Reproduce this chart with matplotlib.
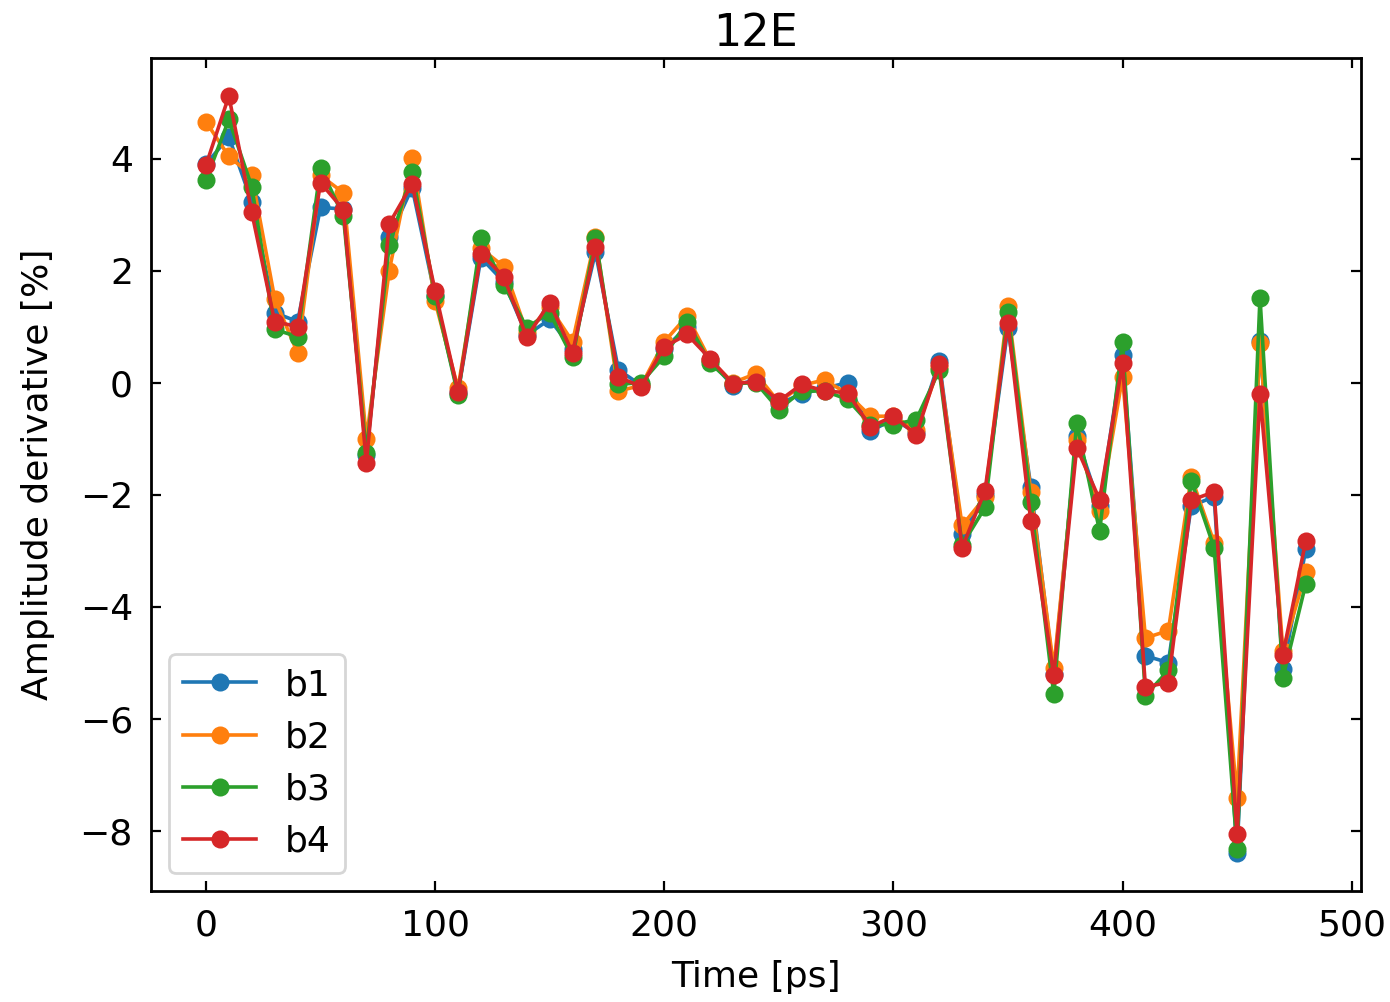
import numpy as np
import matplotlib
matplotlib.use("Agg")
import matplotlib.pyplot as plt

plt.rcParams["font.size"] = 13

time = np.arange(0, 490, 10)

# amplitude derivative per band
b1 = [3.9, 4.39, 3.23, 1.25, 1.09, 3.13, 3.1, -1.3, 2.6, 3.48,
      1.55, -0.18, 2.23, 1.8, 0.85, 1.13, 0.6, 2.33, 0.23, -0.05,
      0.6, 1.0, 0.4, -0.06, 0.05, -0.38, -0.2, -0.1, 0.0, -0.87,
      -0.65, -0.9, 0.38, -2.7, -2.0, 0.98, -1.86, -5.2, -0.96, -2.2,
      0.5, -4.88, -5.0, -2.2, -2.04, -8.4, 0.75, -5.11, -2.98]
b2 = [4.66, 4.04, 3.70, 1.50, 0.53, 3.7, 3.39, -1.0, 2.0, 4.02,
      1.45, -0.1, 2.4, 2.07, 0.9, 1.35, 0.73, 2.6, -0.15, -0.05,
      0.73, 1.19, 0.4, 0.0, 0.16, -0.35, -0.05, 0.05, -0.2, -0.6,
      -0.6, -0.85, 0.28, -2.55, -2.05, 1.36, -1.96, -5.1, -1.02, -2.3,
      0.1, -4.56, -4.43, -1.68, -2.86, -7.41, 0.7, -4.79, -3.39]
b3 = [3.62, 4.70, 3.50, 0.95, 0.82, 3.84, 2.97, -1.25, 2.46, 3.76,
      1.55, -0.22, 2.58, 1.75, 0.98, 1.25, 0.45, 2.58, -0.03, 0.0,
      0.47, 1.09, 0.35, -0.02, 0.0, -0.48, -0.15, -0.15, -0.3, -0.75,
      -0.75, -0.66, 0.22, -2.9, -2.23, 1.27, -2.13, -5.57, -0.72, -2.65,
      0.72, -5.59, -5.14, -1.75, -2.95, -8.33, 1.52, -5.27, -3.59]
b4 = [3.88, 5.12, 3.04, 1.09, 1.0, 3.57, 3.09, -1.43, 2.84, 3.55,
      1.64, -0.16, 2.30, 1.89, 0.81, 1.43, 0.53, 2.43, 0.1, -0.07,
      0.64, 0.86, 0.43, -0.02, 0.02, -0.33, -0.03, -0.15, -0.18, -0.79,
      -0.6, -0.93, 0.33, -2.95, -1.93, 1.07, -2.48, -5.23, -1.16, -2.09,
      0.35, -5.43, -5.36, -2.1, -1.95, -8.07, -0.21, -4.86, -2.82]

fig, ax = plt.subplots(figsize=(6.95, 5.01), dpi=200)

for label, vals in [("b1", b1), ("b2", b2), ("b3", b3), ("b4", b4)]:
    ax.plot(time, vals, "o-", label=label, markersize=5.5, linewidth=1.3)

ax.set_title("12E", fontsize=16, pad=4.5)
ax.set_xlabel("Time [ps]", labelpad=6)
ax.set_ylabel("Amplitude derivative [%]", labelpad=9)
ax.tick_params(direction="in", top=True, right=True, pad=6.5)
for sp in ax.spines.values():
    sp.set_linewidth(1.0)
ax.legend(loc="lower left")

fig.subplots_adjust(left=0.1086, right=0.979, top=0.942, bottom=0.111)
fig.savefig("out.png")
